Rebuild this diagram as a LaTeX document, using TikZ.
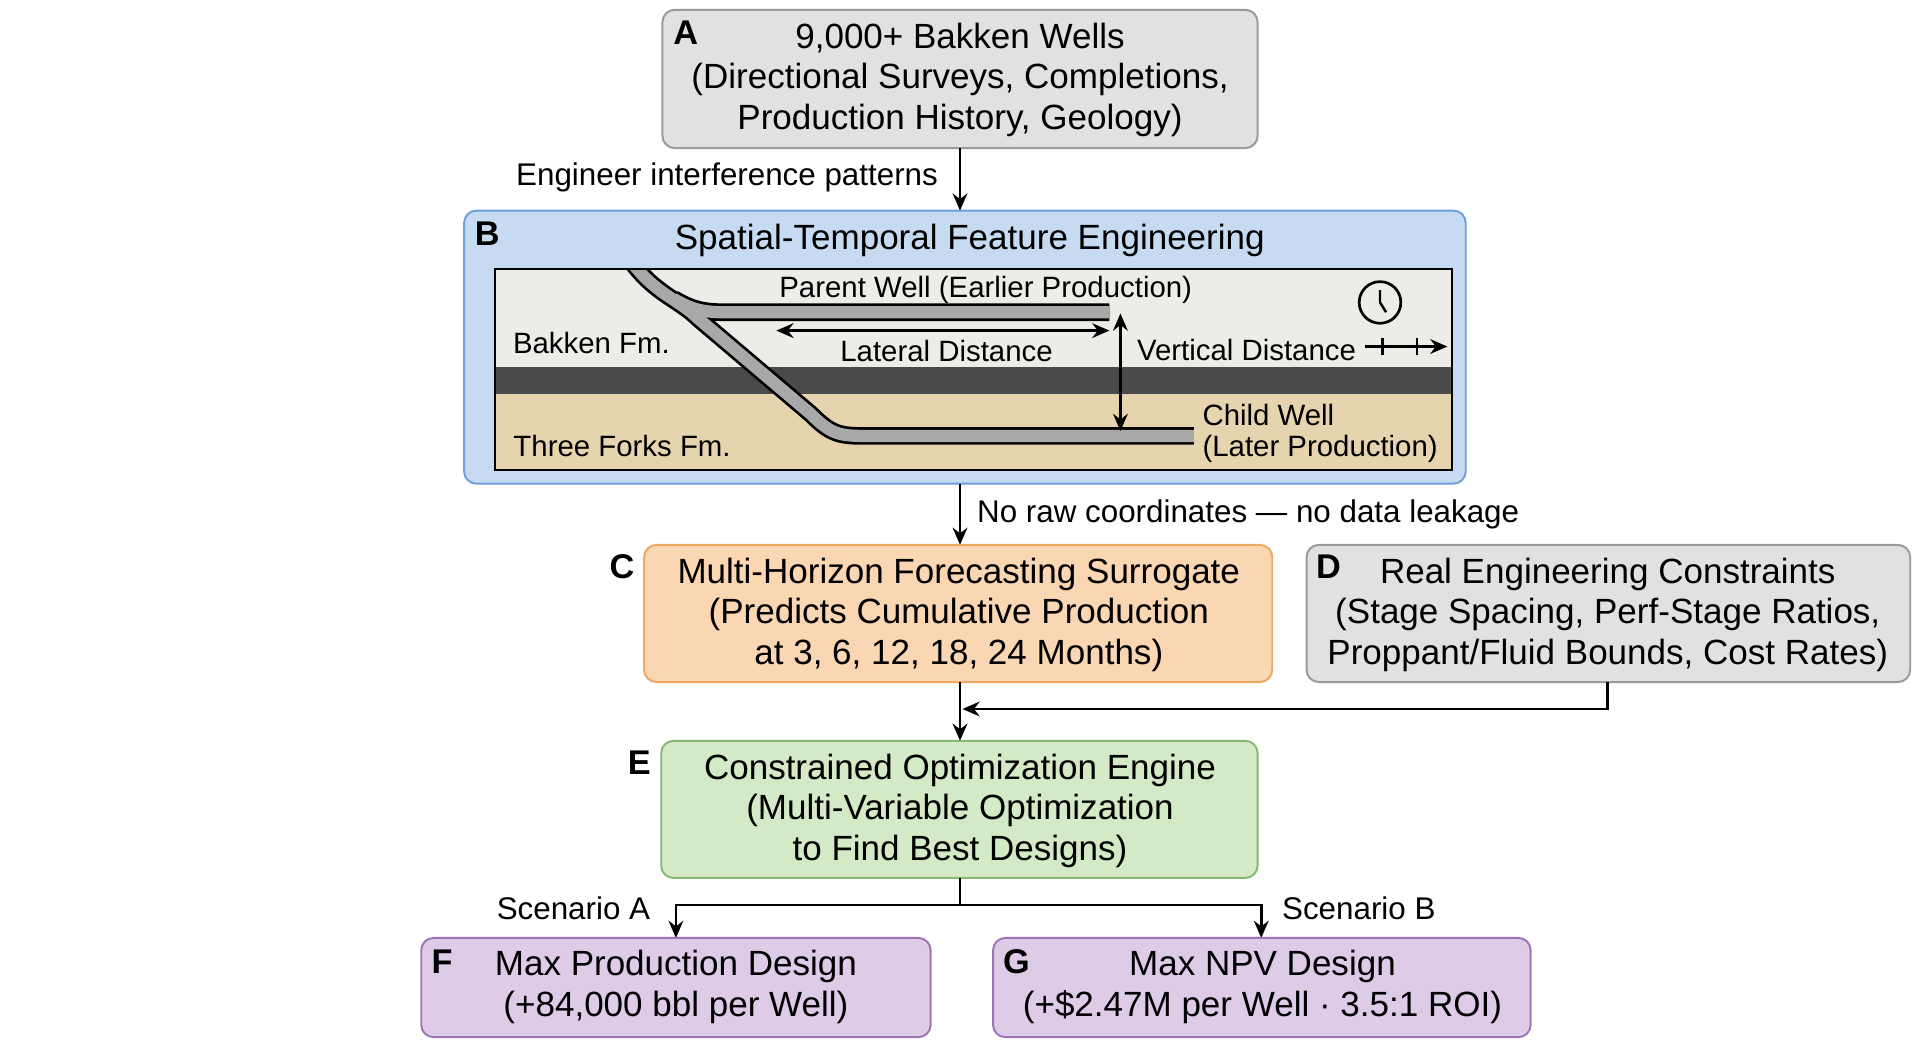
\documentclass[tikz,border=0pt]{standalone}
\usepackage{fontspec}
\setmainfont{Liberation Sans}
\usetikzlibrary{arrows.meta}
\definecolor{grayf}{HTML}{E1E1E1}\definecolor{grayd}{HTML}{9A9A9A}
\definecolor{bluef}{HTML}{C6DBF2}\definecolor{blued}{HTML}{6F9FD8}
\definecolor{orf}{HTML}{FBD6B2}\definecolor{ord}{HTML}{EDA865}
\definecolor{grf}{HTML}{D4E9C6}\definecolor{grd}{HTML}{86B874}
\definecolor{puf}{HTML}{DDCBE8}\definecolor{pud}{HTML}{9E74B4}
\definecolor{rock}{HTML}{EDECE8}\definecolor{shale}{HTML}{4A4A4A}\definecolor{sand}{HTML}{E6D4AE}
\definecolor{well}{HTML}{A8A8A8}
\begin{document}
\begin{tikzpicture}[x=0.5pt,y=-0.5pt,
 box/.style={rounded corners=5pt,line width=0.8pt},
 txt/.style={font=\fontsize{14.3}{16.5}\selectfont,align=center},
 lab/.style={font=\fontsize{12.8}{14}\selectfont},
 ptx/.style={font=\fontsize{12}{13}\selectfont},
 let/.style={font=\fontsize{14}{15}\selectfont\bfseries},
 arr/.style={-{Stealth[length=7pt,width=6pt]},line width=1.1pt}]
\useasboundingbox (0,0) rectangle (1568,855);
% A
\draw[box,fill=grayf,draw=grayd] (541,8) rectangle (1027,121);
\node[txt] (A) at (784,65) {9,000+ Bakken Wells\\(Directional Surveys, Completions,\\Production History, Geology)};
\node[let] (la) at (560,27) {A};
% B
\draw[box,fill=bluef,draw=blued] (379,172) rectangle (1197,395);
\node[let] (lb) at (398,191) {B};
\node[txt] (bt) at (792,196) {Spatial-Temporal Feature Engineering};
\fill[rock] (404,220) rectangle (1186,300);
\fill[sand] (404,322) rectangle (1186,384);
\fill[shale] (404,300) rectangle (1186,322);
\draw[line width=0.8pt] (404,220) rectangle (1186,384);
\begin{scope}
\clip (404,221) rectangle (1186,384);
\foreach \w/\c in {7.2pt/black,5pt/well}{
 \draw[line width=\w,draw=\c] (550,244) .. controls (565,253) and (575,255) .. (592,255) -- (906,255);
 \draw[line width=\w,draw=\c,line join=round] (516,214) .. controls (535,240) and (555,245) .. (570,260) -- (662,338) .. controls (678,354) and (685,356) .. (705,356) -- (975,356);}
\end{scope}
\node[coordinate] (l1) at (634,270) {}; \node[coordinate] (l2) at (906,270) {};
\draw[{Stealth[length=7pt,width=6pt]}-{Stealth[length=7pt,width=6pt]},line width=1.2pt] (l1) -- (l2);
\node[coordinate] (v1) at (915,256) {}; \node[coordinate] (v2) at (915,352) {};
\draw[{Stealth[length=7pt,width=6pt]}-{Stealth[length=7pt,width=6pt]},line width=1.1pt] (v1) -- (v2);
\node[ptx] (pw) at (805,237) {Parent Well (Earlier Production)};
\node[ptx] (ld) at (773,287) {Lateral Distance};
\node[ptx] (vd) at (1018,286) {Vertical Distance};
\node[ptx] (bk) at (483,280) {Bakken Fm.};
\node[ptx] (tf) at (508,364) {Three Forks Fm.};
\node[ptx,align=left,anchor=west] (cw) at (975,354) {Child Well\\(Later Production)};
\node[circle,draw,line width=1.1pt,inner sep=0pt,minimum size=17pt] (clk) at (1127,247) {};
\draw[line width=1pt] (clk.center) -- +(0,-10) (clk.center) -- +(5,8);
\node[coordinate] (t1) at (1115,283) {}; \node[coordinate] (t2) at (1182,283) {};
\draw[arr,line width=0.9pt] (t1) -- (t2);
\draw[line width=0.9pt] (1129,276) -- (1129,290) (1157,276) -- (1157,290);
% arrows A-B, B-C
\node[coordinate] (a1) at (784,121) {}; \node[coordinate] (b0) at (784,172) {};
\draw[arr] (a1) -- (b0);
\node[lab,anchor=east] (l1t) at (773,145) {Engineer interference patterns};
\node[coordinate] (b1) at (784,395) {}; \node[coordinate] (c0) at (784,445) {};
\draw[arr] (b1) -- (c0);
\node[lab,anchor=west] (l2t) at (791,420) {No raw coordinates — no data leakage};
% C D
\draw[box,fill=orf,draw=ord] (526,445) rectangle (1039,557);
\node[txt] (C) at (783,502) {Multi-Horizon Forecasting Surrogate\\(Predicts Cumulative Production\\at 3, 6, 12, 18, 24 Months)};
\node[let] (lc) at (508,463) {C};
\draw[box,fill=grayf,draw=grayd] (1067,445) rectangle (1560,557);
\node[txt] (D) at (1313,502) {Real Engineering Constraints\\(Stage Spacing, Perf-Stage Ratios,\\Proppant/Fluid Bounds, Cost Rates)};
\node[let] (ld2) at (1085,463) {D};
% E
\node[coordinate] (c1) at (784,557) {}; \node[coordinate] (e0) at (784,605) {};
\draw[arr] (c1) -- (e0);
\node[coordinate] (d1) at (1313,557) {}; \node[coordinate] (m) at (786,579) {};
\draw[arr] (d1) |- (m);
\draw[box,fill=grf,draw=grd] (540,605) rectangle (1027,717);
\node[txt] (E) at (784,662) {Constrained Optimization Engine\\(Multi-Variable Optimization\\to Find Best Designs)};
\node[let] (le) at (522,623) {E};
% F G
\node[coordinate] (e1) at (784,717) {}; \node[coordinate] (j) at (784,739) {};
\node[coordinate] (f0) at (552,766) {}; \node[coordinate] (g0) at (1030,766) {};
\draw[line width=1.1pt] (e1) -- (j);
\draw[arr] (j) -| (f0);
\draw[arr] (j) -| (g0);
\node[lab,anchor=east] (sa) at (538,742) {Scenario A};
\node[lab,anchor=west] (sb) at (1040,742) {Scenario B};
\draw[box,fill=puf,draw=pud] (344,766) rectangle (760,847);
\node[txt] (F) at (552,806) {Max Production Design\\(+84,000 bbl per Well)};
\node[let] (lf) at (361,785) {F};
\draw[box,fill=puf,draw=pud] (811,766) rectangle (1250,847);
\node[txt] (G) at (1031,806) {Max NPV Design\\(+\$2.47M per Well · 3.5:1 ROI)};
\node[let] (lg) at (830,785) {G};
\end{tikzpicture}
\end{document}
